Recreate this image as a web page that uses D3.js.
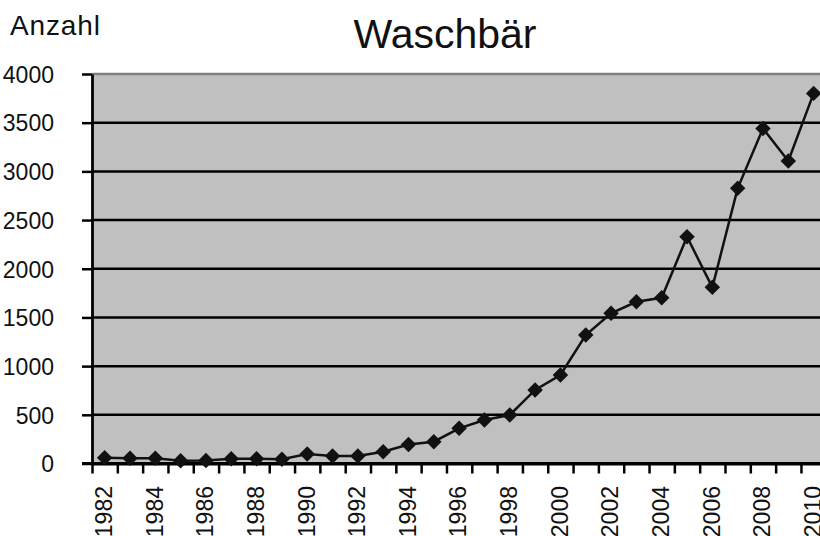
<!DOCTYPE html>
<html>
<head>
<meta charset="utf-8">
<script src="https://cdn.jsdelivr.net/npm/d3@7"></script>
<style>
html,body{margin:0;padding:0;background:#fff;}
svg{display:block;}
text{font-family:"Liberation Sans",Arial,sans-serif;fill:#111;}
</style>
</head>
<body>
<svg id="chart" width="820" height="536"></svg>
<script>
const years = [1982,1983,1984,1985,1986,1987,1988,1989,1990,1991,1992,1993,1994,1995,1996,1997,1998,1999,2000,2001,2002,2003,2004,2005,2006,2007,2008,2009,2010];
const counts = [60,53,55,28,30,50,50,43,97,77,77,121,195,224,361,447,498,755,909,1319,1542,1661,1702,2329,1809,2826,3441,3106,3801];
const yTicks = [0,500,1000,1500,2000,2500,3000,3500,4000];
const xLabelYears = years.filter((d,i)=>i%2===0);
const title = "Waschbär";
const yTitle = "Anzahl";

(function(){
const svg = d3.select("#chart");
const pL = 92, pT = 74, pB = 463.5, pR = 92 + 29*25.32;

const x = d3.scaleBand().domain(years).range([pL, pR]).padding(0);
const xb = d3.scaleLinear().domain([0, years.length]).range([pL, pR]);
const y = d3.scaleLinear().domain([0, 4000]).range([pB, pT]);

// plot background
svg.append("rect").attr("x", pL).attr("y", pT).attr("width", pR-pL).attr("height", pB-pT).attr("fill", "#c0c0c0");
// top border
svg.append("line").attr("x1", pL).attr("x2", pR).attr("y1", pT).attr("y2", pT).attr("stroke", "#808080").attr("stroke-width", 2.5);

// gridlines
svg.append("g").selectAll("line").data(yTicks.filter(d=>d>0 && d<4000)).join("line")
  .attr("x1", pL).attr("x2", pR).attr("y1", d=>y(d)).attr("y2", d=>y(d))
  .attr("stroke", "#000").attr("stroke-width", 2.5);

// y axis
const yAxis = svg.append("g").attr("transform", `translate(${pL},0)`)
  .call(d3.axisLeft(y).tickValues(yTicks).tickFormat(d3.format("d")).tickSize(10).tickPadding(28).tickSizeOuter(0));
yAxis.select(".domain").attr("stroke", "#000").attr("stroke-width", 2.8);
yAxis.selectAll(".tick line").attr("stroke", "#000").attr("stroke-width", 2.5);
yAxis.selectAll(".tick text").attr("font-size", 23).attr("font-family", "Liberation Sans, Arial, sans-serif").attr("fill", "#111").attr("dy", "0.36em");

// x axis boundary ticks
const xAxis = svg.append("g").attr("transform", `translate(0,${pB})`)
  .call(d3.axisBottom(xb).tickValues(d3.range(0, years.length)).tickSize(10).tickFormat("").tickSizeOuter(0));
xAxis.select(".domain").attr("stroke", "#000").attr("stroke-width", 2.8);
xAxis.selectAll(".tick line").attr("stroke", "#000").attr("stroke-width", 2.5);
svg.append("line").attr("x1", pL-10).attr("x2", pR).attr("y1", pB).attr("y2", pB).attr("stroke", "#000").attr("stroke-width", 2.8);

// x labels
svg.append("g").selectAll("text").data(xLabelYears).join("text")
  .attr("transform", d=>`translate(${x(d)+x.bandwidth()/2 - 1},486) rotate(-90)`)
  .attr("text-anchor", "end").attr("dy", "0.36em")
  .attr("font-size", 23).text(d=>d);

// line
const line = d3.line().x((d,i)=>x(years[i])+x.bandwidth()/2).y(d=>y(d));
svg.append("path").datum(counts).attr("d", line).attr("fill", "none").attr("stroke", "#111").attr("stroke-width", 2.5);

// markers
const sym = d3.symbol().type(d3.symbolSquare).size(120);
svg.append("g").selectAll("path").data(counts).join("path")
  .attr("d", sym)
  .attr("transform", (d,i)=>`translate(${x(years[i])+x.bandwidth()/2},${y(d)}) rotate(45)`)
  .attr("fill", "#111");

// titles
svg.append("text").attr("x", 445).attr("y", 48).attr("text-anchor", "middle").attr("font-size", 41).text(title);
svg.append("text").attr("x", 10).attr("y", 35).attr("font-size", 28).attr("textLength", 90).text(yTitle);
})();
</script>
</body>
</html>
